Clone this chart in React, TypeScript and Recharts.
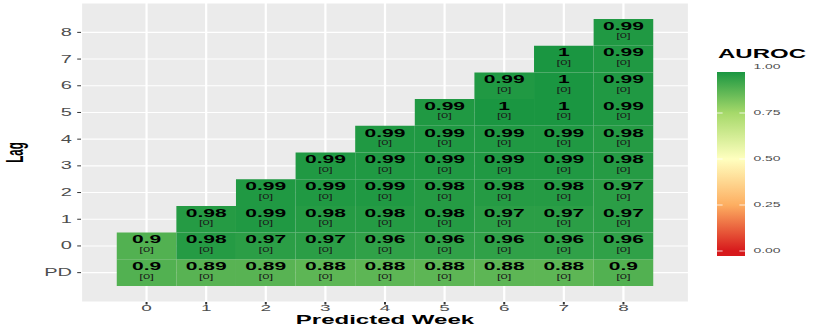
import { CartesianGrid, ReferenceArea, Scatter, ScatterChart, XAxis, YAxis } from "recharts";

const FONT = '"Liberation Sans", Arial, Helvetica, sans-serif';

// predicted weeks on x, lag rows on y (PD first)
const weeks = [0, 1, 2, 3, 4, 5, 6, 7, 8];
const rowLabels = ["PD", "0", "1", "2", "3", "4", "5", "6", "7", "8"];

// AUROC per row, starting at the first week the lag exists
const pdRow = [0.9, 0.89, 0.89, 0.88, 0.88, 0.88, 0.88, 0.88, 0.9];
const lag0 = [0.9, 0.98, 0.97, 0.97, 0.96, 0.96, 0.96, 0.96, 0.96];
const lag1 = [0.98, 0.99, 0.98, 0.98, 0.98, 0.97, 0.97, 0.97];
const lag2 = [0.99, 0.99, 0.99, 0.98, 0.98, 0.98, 0.97];
const lag3 = [0.99, 0.99, 0.99, 0.99, 0.99, 0.98];
const lag4 = [0.99, 0.99, 0.99, 0.99, 0.98];
const lag5 = [0.99, 1, 1, 0.99];
const lag6 = [0.99, 1, 0.99];
const lag7 = [1, 0.99];
const lag8 = [0.99];
const rowStart = [0, 0, 1, 2, 3, 4, 5, 6, 7, 8];
const missingCount = 0;

const legendTicks = [0, 0.25, 0.5, 0.75, 1];
const palette = ["#d7191c", "#fdae61", "#ffffbf", "#a6d96a", "#1a9641"];

const rows = [pdRow, lag0, lag1, lag2, lag3, lag4, lag5, lag6, lag7, lag8];
const cells = rows.flatMap((vals, r) =>
  vals.map((v, i) => ({ week: rowStart[r] + i, row: r, auroc: v, missing: missingCount }))
);

function hex(c: string) {
  return [1, 3, 5].map((i) => parseInt(c.slice(i, i + 2), 16));
}

function colorFor(v: number) {
  const pos = Math.min(Math.max(v, 0), 1) * (palette.length - 1);
  const i = Math.min(Math.floor(pos), palette.length - 2);
  const t = pos - i;
  const a = hex(palette[i]);
  const b = hex(palette[i + 1]);
  const rgb = a.map((x, k) => Math.round(x + (b[k] - x) * t));
  return `rgb(${rgb.join(",")})`;
}

function CellText(props: any) {
  const { cx, cy, payload } = props;
  return (
    <g>
      <text x={cx} y={cy - 2.6} textAnchor="middle" fontSize={10.5} fontWeight="bold" fill="#000">
        {String(payload.auroc)}
      </text>
      <text x={cx} y={cy + 6} textAnchor="middle" fontSize={6.5} fill="#1a1a1a">
        [{payload.missing}]
      </text>
    </g>
  );
}

function LagLabel(props: any) {
  const vb = props.viewBox || { x: 0, y: 3, width: 40.5, height: 299 };
  const x = vb.x + 11.5;
  const y = vb.y + vb.height / 2;
  return (
    <text x={x} y={y} transform={`rotate(-90 ${x} ${y})`} textAnchor="middle" fontSize={11.5} fontWeight="bold" fill="#000">
      Lag
    </text>
  );
}

// colour bar legend
const BAR_X = 358.5;
const BAR_W = 14;
const BAR_TOP = 72;
const BAR_H = 184;
const legendY = (v: number) => BAR_TOP + BAR_H - 5 - v * BAR_H;

function Legend() {
  return (
    <svg width={415} height={327} style={{ position: "absolute", left: 0, top: 0, pointerEvents: "none" }}>
      <defs>
        <linearGradient id="auroc" x1="0" y1="1" x2="0" y2="0">
          {palette.map((c, i) => {
            const v = i / (palette.length - 1);
            const off = (BAR_TOP + BAR_H - legendY(v)) / BAR_H;
            return <stop key={c} offset={Math.min(Math.max(off, 0), 1)} stopColor={c} />;
          })}
        </linearGradient>
      </defs>
      <text x={359} y={58.3} fontSize={12} fontWeight="bold" fill="#000">
        AUROC
      </text>
      <rect x={BAR_X} y={BAR_TOP} width={BAR_W} height={BAR_H} fill="url(#auroc)" />
      {legendTicks.map((v) => (
        <g key={v}>
          <line x1={BAR_X} x2={BAR_X + BAR_W / 5} y1={legendY(v)} y2={legendY(v)} stroke="#fff" strokeWidth={0.8} />
          <line x1={BAR_X + BAR_W - BAR_W / 5} x2={BAR_X + BAR_W} y1={legendY(v)} y2={legendY(v)} stroke="#fff" strokeWidth={0.8} />
          <text x={376.7} y={legendY(v) + 2.5} fontSize={7} fill="#4d4d4d">
            {v.toFixed(2)}
          </text>
        </g>
      ))}
    </svg>
  );
}

export default function App() {
  return (
    <div style={{ width: 830, height: 327, overflow: "hidden", background: "#fff", fontFamily: FONT }}>
      <style>{"body{margin:0}"}</style>
      <div style={{ width: 415, height: 327, transform: "scaleX(2)", transformOrigin: "0 0", position: "relative" }}>
        <ScatterChart width={415} height={327} margin={{ top: 3, right: 70.5, bottom: 0, left: 0 }}>
          <CartesianGrid fill="#ebebeb" fillOpacity={1} stroke="#ffffff" strokeWidth={1.1} />
          <XAxis
            type="number"
            dataKey="week"
            domain={[-1.1, 9.1]}
            ticks={weeks}
            interval={0}
            height={25}
            axisLine={false}
            tickLine={{ stroke: "#333333" }}
            tickSize={2.5}
            tickMargin={0.1}
            tick={{ fill: "#4d4d4d", fontSize: 9.5 }}
            label={{ value: "Predicted Week", position: "insideBottom", offset: 2.6, fill: "#000", fontSize: 12, fontWeight: "bold" }}
          />
          <YAxis
            type="number"
            dataKey="row"
            domain={[-1.1, 10.1]}
            ticks={rowLabels.map((_, i) => i)}
            tickFormatter={(v: number) => rowLabels[v]}
            interval={0}
            width={40.5}
            axisLine={false}
            tickLine={{ stroke: "#333333" }}
            tickSize={1.9}
            tickMargin={2.6}
            tick={{ fill: "#4d4d4d", fontSize: 10 }}
            label={LagLabel}
          />
          {cells.map((c) => (
            <ReferenceArea
              key={`${c.row}-${c.week}`}
              x1={c.week - 0.5}
              x2={c.week + 0.5}
              y1={c.row - 0.5}
              y2={c.row + 0.5}
              fill={colorFor(c.auroc)}
              fillOpacity={1}
              stroke="none"
            />
          ))}
          <Scatter data={cells} isAnimationActive={false} shape={CellText} />
        </ScatterChart>
        <Legend />
      </div>
    </div>
  );
}
